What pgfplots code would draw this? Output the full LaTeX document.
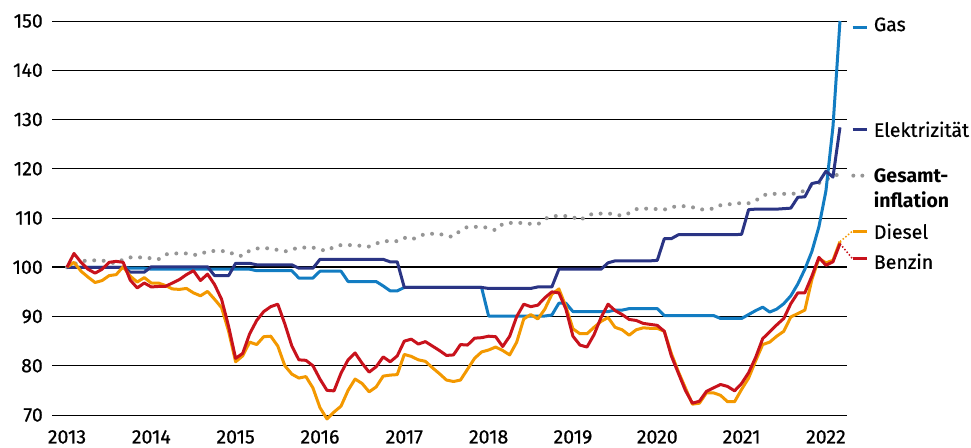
\documentclass[border=0pt]{standalone}
\usepackage{fontspec}
\setmainfont{Fira Sans}
\newfontfamily\medfont{Fira Sans}[FakeBold=0.6]
\usepackage{pgfplots}
\pgfplotsset{compat=1.18}
\usepackage{pgfplotstable}

\definecolor{gasblue}{RGB}{18,124,194}
\definecolor{elnavy}{RGB}{42,52,132}
\definecolor{infgray}{RGB}{150,150,150}
\definecolor{dieselor}{RGB}{243,152,0}
\definecolor{benzinred}{RGB}{200,18,28}

% Index Jan 2013 = 100, month 0 = Jan 2013
\pgfplotstableread{
m gas elek ges diesel benzin
0 100 100 100 100 100
1 100 100 100.6 101.0 102.8
2 100 100 101.2 99.2 101.0
3 100 100 101.4 98.0 99.6
4 100 100 101.4 96.9 98.8
5 100 100 101.4 97.3 99.6
6 100 100 101.0 98.3 101.0
7 100 100 100.8 98.5 101.2
8 100 100 101.6 100.1 101.0
9 99.8 99.0 102.0 98.2 97.4
10 99.8 99.0 102.0 97.0 95.8
11 99.8 99.0 102.0 97.9 96.8
12 99.6 100.1 101.8 96.8 96.0
13 99.6 100.1 101.6 96.8 96.1
14 99.6 100.1 102.6 96.3 96.1
15 99.6 100.1 102.8 95.6 96.8
16 99.6 100.1 102.8 95.5 97.5
17 99.6 100.1 102.8 95.7 98.5
18 99.6 100.1 102.5 94.8 99.3
19 99.6 100.1 102.6 94.2 97.3
20 99.6 100.1 103.3 95.1 98.6
21 99.6 98.3 103.3 93.5 96.5
22 99.6 98.3 103.3 91.8 93.5
23 99.6 98.3 103.2 87.0 88.0
24 99.6 100.8 102.4 80.8 81.5
25 99.6 100.8 102.3 82.0 82.5
26 99.6 100.8 103.4 84.8 86.5
27 99.3 100.5 103.8 84.3 89.2
28 99.3 100.5 103.9 85.9 91.0
29 99.3 100.5 103.8 86.0 92.0
30 99.3 100.5 103.5 84.0 92.5
31 99.3 100.5 103.2 80.0 88.5
32 99.3 100.5 103.6 78.3 84.0
33 97.8 99.8 104.0 77.5 81.2
34 97.8 99.8 104.0 77.8 81.1
35 97.8 99.8 104.0 75.5 80.0
36 99.2 101.6 103.6 71.5 77.3
37 99.2 101.6 103.3 69.2 75.0
38 99.2 101.6 104.2 70.6 74.9
39 99.2 101.6 104.5 71.8 78.5
40 97.1 101.6 104.5 75.0 81.2
41 97.1 101.6 104.5 77.3 82.6
42 97.1 101.6 104.3 76.4 80.5
43 97.1 101.6 104.2 74.7 78.7
44 97.1 101.6 104.8 75.7 79.8
45 96.2 101.6 105.3 77.9 81.8
46 95.2 101.1 105.3 78.1 80.8
47 95.2 101.1 105.3 78.2 82.0
48 95.9 95.9 106.0 82.3 85.0
49 95.9 95.9 105.6 81.9 85.4
50 95.9 95.9 106.2 81.2 84.4
51 95.9 95.9 106.8 80.9 84.9
52 95.9 95.9 106.8 79.6 84.0
53 95.9 95.9 106.8 78.4 83.1
54 95.9 95.9 106.3 77.1 82.1
55 95.9 95.9 106.2 76.8 82.2
56 95.9 95.9 107.5 77.1 84.3
57 95.9 95.9 108.2 79.3 84.2
58 95.9 95.9 108.2 81.5 85.6
59 95.9 95.9 108.2 82.8 85.7
60 90.1 95.7 108.0 83.2 86.0
61 90.1 95.7 107.5 83.8 85.9
62 90.1 95.7 108.8 83.1 83.9
63 90.1 95.7 109.0 82.2 86.0
64 90.1 95.7 109.0 84.8 90.0
65 90.1 95.7 109.0 89.5 92.5
66 90.1 95.7 108.8 90.4 92.0
67 90.1 96.0 108.7 89.5 92.3
68 90.1 96.0 109.8 91.5 93.8
69 90.3 96.0 110.4 94.5 95.0
70 92.7 99.6 110.4 95.6 94.8
71 92.7 99.6 110.4 92.0 91.5
72 91.0 99.6 110.2 87.5 86.0
73 91.0 99.6 109.5 86.5 84.2
74 91.0 99.6 110.5 86.5 83.8
75 91.0 99.6 110.9 87.8 86.3
76 91.0 99.6 110.9 89.0 89.8
77 91.0 100.9 110.9 89.8 92.5
78 91.3 101.3 110.8 87.8 91.2
79 91.3 101.3 110.4 87.3 90.4
80 91.6 101.3 111.0 86.2 89.4
81 91.6 101.3 111.8 87.3 89.2
82 91.6 101.3 111.9 87.7 88.6
83 91.6 101.3 111.9 87.6 88.4
84 91.6 101.4 111.8 87.6 88.2
85 90.2 105.8 111.7 87.0 87.0
86 90.2 105.8 112.2 82.5 82.0
87 90.2 106.6 112.4 78.8 78.5
88 90.2 106.6 112.4 75.5 75.0
89 90.2 106.6 112.2 72.2 72.4
90 90.2 106.6 111.7 72.4 72.8
91 90.2 106.6 111.8 74.5 74.8
92 90.2 106.6 111.9 74.5 75.5
93 89.6 106.6 112.6 74.0 76.2
94 89.6 106.6 112.8 72.7 75.8
95 89.6 106.6 112.8 72.7 74.9
96 89.6 106.7 113.1 75.2 76.4
97 90.4 111.7 113.0 77.5 78.6
98 91.2 111.8 113.5 81.0 81.7
99 91.9 111.8 114.6 84.3 85.5
100 90.9 111.8 114.9 84.8 86.9
101 91.5 111.8 114.9 86.0 88.3
102 92.6 111.9 114.9 87.0 89.6
103 94.2 112.0 114.9 89.9 92.6
104 96.6 114.2 115.0 90.6 94.8
105 99.6 114.3 115.6 91.3 94.8
106 103.2 117.0 116.7 97.5 98.2
107 108.2 117.3 117.1 101.8 102.0
108 115.5 119.5 117.8 100.9 100.4
109 128.5 118.3 118.4 101.4 101.1
110 150 128.4 119.0 105.2 104.8
}\energie

\begin{document}
\begin{tikzpicture}
\useasboundingbox (0,0) rectangle (971pt,447pt);
\begin{axis}[
  at={(52pt,32pt)}, anchor=south west,
  scale only axis, width=795pt, height=394pt,
  xmin=-2.13, xmax=111.0, ymin=70, ymax=150,
  xtick={0,12,...,108},
  xticklabels={2013,2014,2015,2016,2017,2018,2019,2020,2021,2022},
  ytick={70,80,...,150},
  /pgf/number format/assume math mode=true,
  axis line style={draw=none},
  major tick length=0pt,
  ymajorgrids, grid style={black, line width=1pt},
  tick label style={font=\medfont\fontsize{19.5}{21}\selectfont, inner sep=0pt},
  xticklabel style={anchor=north, yshift=-15pt},
  yticklabel style={anchor=east, xshift=-9pt},
  clip=false,
  every axis plot/.append style={line join=round},
]
\addplot[black, line width=2pt] coordinates {(-2.13,100) (111.0,100)};

\addplot[infgray, line width=4pt, line cap=round, dash pattern=on 0pt off 9.5pt]
  table[x=m, y=ges] {\energie};
\addplot[gasblue, line width=3pt] table[x=m, y=gas] {\energie};
\addplot[elnavy, line width=3pt] table[x=m, y=elek] {\energie};
\addplot[dieselor, line width=3pt] table[x=m, y=diesel] {\energie};
\addplot[benzinred, line width=3pt] table[x=m, y=benzin] {\energie};

% connectors to the labels
\addplot[dieselor, line width=1.5pt, dotted] coordinates {(110,105.2) (111.8,107.35)};
\addplot[benzinred, line width=1.5pt, dotted] coordinates {(110,104.8) (111.8,101.7)};

% label keys
\addplot[gasblue, line width=3pt] coordinates {(111.8,148.7) (113.8,148.7)};
\addplot[elnavy, line width=3pt] coordinates {(111.8,128.0) (113.8,128.0)};
\addplot[infgray, line width=4pt, line cap=round, dash pattern=on 0pt off 9pt]
  coordinates {(111.9,118.6) (113.6,118.6)};
\addplot[dieselor, line width=3pt] coordinates {(111.8,107.35) (113.8,107.35)};
\addplot[benzinred, line width=3pt] coordinates {(111.8,101.7) (113.8,101.7)};

\begin{scope}[every node/.style={anchor=west, inner sep=0pt, font=\medfont\fontsize{19.5}{21}\selectfont}]
\node at (axis cs:114.8,149.3) {Gas};
\node at (axis cs:114.8,128.0) {Elektrizität};
\node[font=\fontsize{19.5}{21}\selectfont\bfseries] at (axis cs:114.8,118.6) {Gesamt-};
\node[font=\fontsize{19.5}{21}\selectfont\bfseries] at (axis cs:114.8,113.8) {inflation};
\node at (axis cs:114.8,107.3) {Diesel};
\node at (axis cs:114.8,101.2) {Benzin};
\end{scope}
\end{axis}
\end{tikzpicture}
\end{document}
